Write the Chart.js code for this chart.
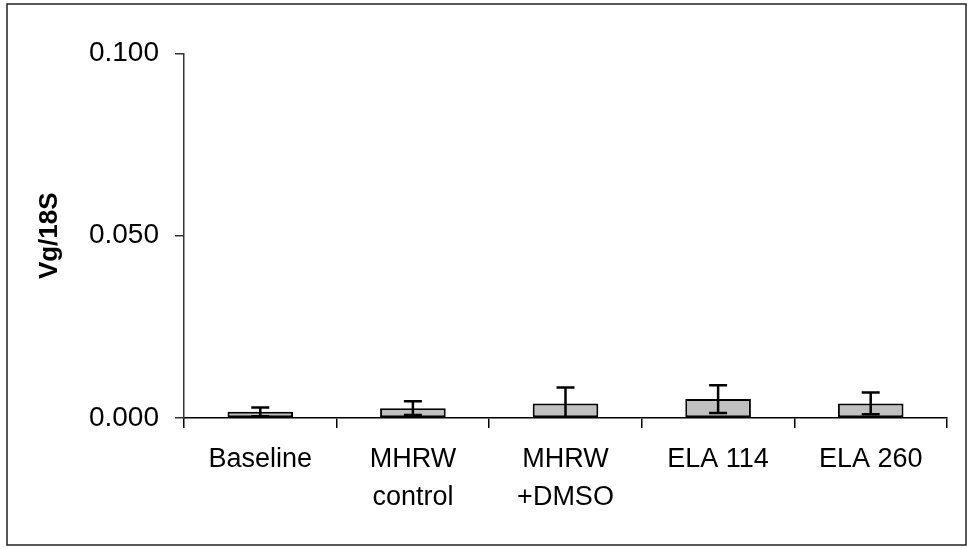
<!DOCTYPE html>
<html>
<head>
<meta charset="utf-8">
<script src="https://cdn.jsdelivr.net/npm/chart.js@4/dist/chart.umd.min.js"></script>
<style>
  html, body { margin: 0; padding: 0; background: #fff; }
  #wrap { width: 969px; height: 548px; position: relative; }
</style>
</head>
<body>
<div id="wrap"><canvas id="c" width="969" height="548"></canvas></div>
<script>
const categories = [['Baseline'], ['MHRW', 'control'], ['MHRW', '+DMSO'], ['ELA 114'], ['ELA 260']];
const means = [0.0017, 0.0027, 0.0040, 0.0052, 0.0040];
const errors = [0.0012, 0.0019, 0.0044, 0.0038, 0.0030];
const yTicks = [0, 0.05, 0.1];

const FONT = '"Liberation Sans", Arial, Helvetica, sans-serif';

const borderPlugin = {
  id: 'outerBorder',
  beforeDraw(chart) {
    const ctx = chart.ctx;
    ctx.save();
    ctx.fillStyle = '#fff';
    ctx.fillRect(0, 0, chart.width, chart.height);
    ctx.strokeStyle = '#222';
    ctx.lineWidth = 1.5;
    ctx.strokeRect(7, 4, 959, 541);
    ctx.restore();
  }
};

const errorBarPlugin = {
  id: 'errorBars',
  afterDatasetsDraw(chart) {
    const ctx = chart.ctx;
    const meta = chart.getDatasetMeta(0);
    const yScale = chart.scales.y;
    const area = chart.chartArea;
    ctx.save();
    ctx.beginPath();
    ctx.rect(area.left, area.top - 2, area.right - area.left, area.bottom - area.top + 2);
    ctx.clip();
    ctx.strokeStyle = '#000';
    ctx.lineWidth = 2.5;
    const capHalf = 9;
    meta.data.forEach((bar, i) => {
      const x = bar.x;
      const yHi = yScale.getPixelForValue(means[i] + errors[i]);
      const yLo = yScale.getPixelForValue(means[i] - errors[i]);
      ctx.beginPath();
      ctx.moveTo(x, yHi);
      ctx.lineTo(x, yLo);
      ctx.moveTo(x - capHalf, yHi);
      ctx.lineTo(x + capHalf, yHi);
      ctx.moveTo(x - capHalf, yLo);
      ctx.lineTo(x + capHalf, yLo);
      ctx.stroke();
    });
    ctx.restore();
  }
};

new Chart(document.getElementById('c'), {
  type: 'bar',
  data: {
    labels: categories,
    datasets: [{
      data: means,
      backgroundColor: '#C0C0C0',
      borderColor: '#000',
      borderWidth: 2,
      borderSkipped: false,
      barPercentage: 0.43,
      categoryPercentage: 1.0
    }]
  },
  options: {
    responsive: false,
    animation: false,
    devicePixelRatio: 1,
    layout: { padding: { top: 53.5, right: 22, bottom: 0, left: 0 } },
    plugins: {
      legend: { display: false },
      tooltip: { enabled: false }
    },
    scales: {
      x: {
        offset: true,
        grid: {
          offset: true,
          drawOnChartArea: false,
          drawTicks: true,
          tickLength: 10,
          color: '#000',
          lineWidth: 1.5
        },
        border: { display: true, color: '#000', width: 1.5 },
        ticks: {
          color: '#000',
          font: { family: FONT, size: 27, lineHeight: 1.42 },
          padding: 12,
          maxRotation: 0,
          autoSkip: false
        },
        afterFit(scale) { scale.height = 130; }
      },
      y: {
        min: 0,
        max: 0.1,
        afterBuildTicks(scale) { scale.ticks = yTicks.map(v => ({ value: v })); },
        grid: {
          drawOnChartArea: false,
          drawTicks: true,
          tickLength: 9,
          color: '#333',
          lineWidth: 1.5
        },
        border: { display: true, color: '#333', width: 1.5 },
        ticks: {
          color: '#000',
          font: { family: FONT, size: 28 },
          padding: 16,
          callback: (v) => Number(v).toFixed(3)
        },
        title: {
          display: true,
          text: 'Vg/18S',
          color: '#000',
          font: { family: FONT, size: 26, weight: 'bold' },
          padding: { top: 34, bottom: 0 }
        },
        afterFit(scale) { scale.width = 184; }
      }
    }
  },
  plugins: [borderPlugin, errorBarPlugin]
});
</script>
</body>
</html>
